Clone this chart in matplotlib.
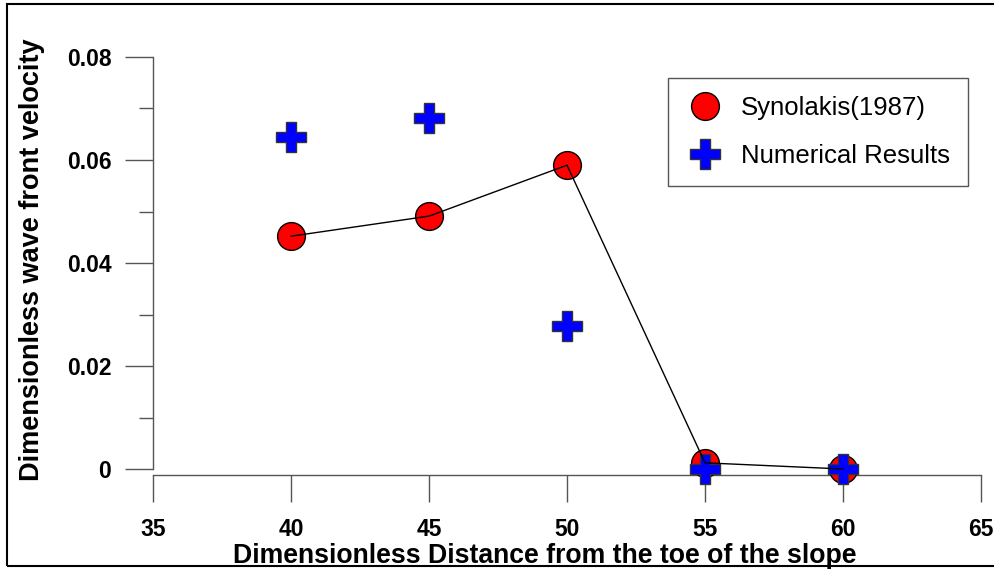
import matplotlib
matplotlib.use("Agg")
from matplotlib import pyplot as plt
from matplotlib.patches import Rectangle
from matplotlib.ticker import FixedLocator, FuncFormatter

plt.rcParams['font.family'] = ['Liberation Sans', 'DejaVu Sans']

# data
distance = [40, 45, 50, 55, 60]
synolakis = [0.0452, 0.0491, 0.0590, 0.0012, 0.0]
numerical = [0.0645, 0.0682, 0.0278, 0.0, 0.0]

x_ticks = [35, 40, 45, 50, 55, 60, 65]
y_ticks = [0, 0.02, 0.04, 0.06, 0.08]
y_minor = [0.01, 0.03, 0.05, 0.07]

W, H = 995, 577
fig = plt.figure(figsize=(W / 100, H / 100), dpi=100)
ax = fig.add_axes([153 / W, 1 - 469 / H, (981 - 153) / W, (469 - 57) / H])

ax.plot(distance, synolakis, 'o', color='red', markeredgecolor='black', markeredgewidth=1,
        markersize=20, linestyle='none', label='Synolakis(1987)', clip_on=False, zorder=3)
ax.plot(distance, numerical, 'P', color='blue', markeredgecolor='#333333', markeredgewidth=1,
        markersize=21, linestyle='none', label='Numerical Results', clip_on=False, zorder=4)
ax.plot(distance, synolakis, '-', color='black', linewidth=1, clip_on=False, zorder=5)

ax.set_xlim(35, 65)
ax.set_ylim(0, 0.08)

for side in ('top', 'right'):
    ax.spines[side].set_visible(False)
ax.spines['bottom'].set_position(('outward', 4))
for side in ('left', 'bottom'):
    ax.spines[side].set_color('#555555')
    ax.spines[side].set_linewidth(1)

ax.xaxis.set_major_locator(FixedLocator(x_ticks))
ax.yaxis.set_major_locator(FixedLocator(y_ticks))
ax.yaxis.set_minor_locator(FixedLocator(y_minor))
ax.yaxis.set_major_formatter(FuncFormatter(lambda v, p: '0' if v == 0 else f'{v:.2f}'))

ax.tick_params(axis='y', which='major', length=20, width=1, color='#555555', pad=10,
               labelsize=16.5)
ax.tick_params(axis='y', which='minor', length=10, width=1, color='#555555')
ax.tick_params(axis='x', which='major', length=19.5, width=1, color='#555555', pad=12,
               labelsize=16.5)
for lab in ax.get_xticklabels() + ax.get_yticklabels():
    lab.set_fontweight('bold')

ax.set_xlabel('Dimensionless Distance from the toe of the slope', fontsize=19.2, fontweight='bold')
ax.set_ylabel('Dimensionless wave front velocity', fontsize=19.5, fontweight='bold')
ax.xaxis.set_label_coords((545 - 153) / 828, (469 - 563) / 412)
ax.xaxis.label.set_va('baseline')
ax.yaxis.set_label_coords((32 - 153) / 828, (469 - 260) / 412)
ax.yaxis.label.set_va('center')

leg = ax.legend(loc='upper left', bbox_to_anchor=(668 / W, 1 - 78 / H),
                bbox_transform=fig.transFigure, borderaxespad=0, fancybox=False,
                edgecolor='#555555', fontsize=18.5, borderpad=0.7, labelspacing=0.95,
                handletextpad=0.65, handlelength=1.5, framealpha=1)
leg.get_frame().set_linewidth(1)

fig.add_artist(Rectangle((7 / W, 1 - 566 / H), 2, (566 - 4) / H, transform=fig.transFigure,
                         fill=False, edgecolor='black', linewidth=1.5))

fig.savefig('out.png', dpi=100)
